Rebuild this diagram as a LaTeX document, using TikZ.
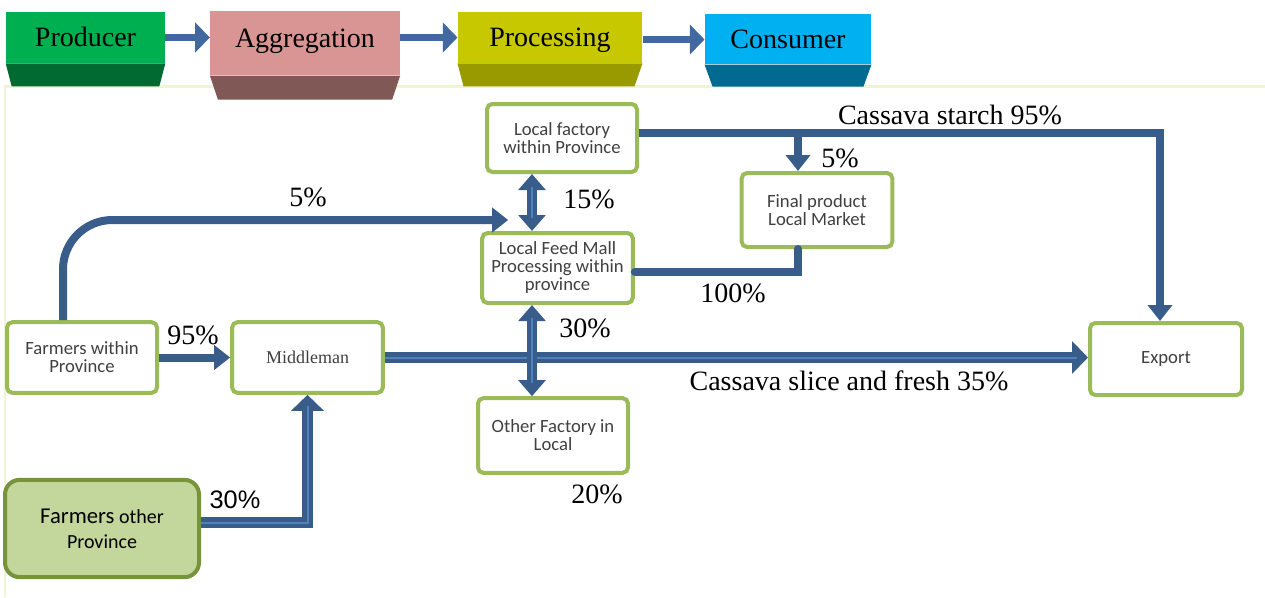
\documentclass[tikz,border=0pt]{standalone}
\usepackage{fontspec}
\setmainfont{Liberation Serif}
\newfontfamily\boxfont{Carlito}
\newfontfamily\arialfont{Liberation Sans}
\usetikzlibrary{arrows.meta,calc}

\tikzset{every picture/.style={line width=0.75pt}}
\tikzset{
  hdrtop/.style={draw=none, inner sep=0pt, text=black, text height=16pt, text depth=2pt, font=\fontsize{21}{24}\selectfont},
  hdrarrow/.style={draw={rgb, 255:red, 65; green, 105; blue, 160}, line width=5pt, -{Triangle[width=22pt,length=11pt]}},
  stage/.style={draw={rgb, 255:red, 155; green, 187; blue, 89}, line width=3pt, fill=white, rounded corners=4pt, inner sep=2pt, align=center, text={rgb, 255:red, 64; green, 64; blue, 64}, font=\boxfont\fontsize{14}{13.5}\selectfont},
  farmbox/.style={draw={rgb, 255:red, 119; green, 147; blue, 60}, line width=3pt, fill={rgb, 255:red, 195; green, 214; blue, 155}, rounded corners=11pt, align=center, text=black, font=\boxfont\fontsize{15}{19}\selectfont},
  flow/.style={draw={rgb, 255:red, 56; green, 93; blue, 138}, line width=6pt, -{Triangle[width=18pt,length=12pt]}},
  stripe/.style={postaction={draw={rgb, 255:red, 79; green, 129; blue, 189}, line width=1.5pt, arrows=-, shorten >=8pt}},
  bigflow/.style={draw={rgb, 255:red, 56; green, 93; blue, 138}, line width=8pt, -{Triangle[width=24pt,length=12pt]}, stripe},
  dblflow/.style={draw={rgb, 255:red, 56; green, 93; blue, 138}, line width=8pt, {Triangle[width=20pt,length=12pt]}-{Triangle[width=20pt,length=12pt]}, postaction={draw={rgb, 255:red, 79; green, 129; blue, 189}, line width=1.5pt, arrows=-, shorten >=10pt, shorten <=10pt}},
  pct/.style={inner sep=0.75pt, font=\fontsize{21}{24}\selectfont},
}

\begin{document}
\begin{tikzpicture}[x=0.75pt,y=0.75pt,yscale=-1,xscale=1]
\useasboundingbox (0,0) rectangle (1265,597);

%Straight Lines [frame]
\draw [color={rgb, 255:red, 238; green, 245; blue, 212}, line width=2pt] (5,597) -- (5,86.5) -- (1265,86.5) ;

%Shape: Header stages
\node [hdrtop, fill={rgb, 255:red, 0; green, 176; blue, 80}, minimum width=119pt, minimum height=38pt] (prod) at (85.5,37.5) {Producer};
\fill [fill={rgb, 255:red, 0; green, 106; blue, 48}] (prod.south west) -- (prod.south east) -- ($(prod.south east)+(-6,23)$) -- ($(prod.south west)+(6,23)$) -- cycle ;
\node [hdrtop, fill={rgb, 255:red, 217; green, 149; blue, 148}, minimum width=142pt, minimum height=48pt, text height=14pt, text depth=8pt] (aggr) at (305,43) {Aggregation};
\fill [fill={rgb, 255:red, 128; green, 88; blue, 86}] (aggr.south west) -- (aggr.south east) -- ($(aggr.south east)+(-8,24)$) -- ($(aggr.south west)+(8,24)$) -- cycle ;
\node [hdrtop, fill={rgb, 255:red, 200; green, 200; blue, 0}, minimum width=138pt, minimum height=38pt] (proc) at (550,37.5) {Processing};
\fill [fill={rgb, 255:red, 153; green, 153; blue, 0}] (proc.south west) -- (proc.south east) -- ($(proc.south east)+(-8,23)$) -- ($(proc.south west)+(6,23)$) -- cycle ;
\node [hdrtop, fill={rgb, 255:red, 0; green, 176; blue, 240}, minimum width=124.5pt, minimum height=37.5pt] (cons) at (788,39) {Consumer};
\fill [fill={rgb, 255:red, 0; green, 106; blue, 145}] (cons.south west) -- (cons.south east) -- ($(cons.south east)+(-8,22)$) -- ($(cons.south west)+(8,22)$) -- cycle ;

%Straight Lines [header arrows]
\draw [hdrarrow] (prod.east) -- (prod.east -| aggr.west) ;
\draw [hdrarrow] (aggr.east |- prod.east) -- (prod.east -| proc.west) ;
\draw [hdrarrow] ($(proc.east)+(0,2)$) -- ($(proc.east -| cons.west)+(0,2)$) ;

%Shape: Chain boxes
\node [stage, minimum width=112.5pt, minimum height=51pt] (lfac) at (562,138) {Local factory\\within Province};
\node [stage, minimum width=113pt, minimum height=55.5pt] (fprod) at (817,210) {Final product\\Local Market};
\node [stage, minimum width=113pt, minimum height=52.5pt] (lfeed) at (557.5,268) {Local Feed Mall\\Processing within\\province};
\node [stage, minimum width=112.5pt, minimum height=56pt] (ofac) at (553,435.5) {Other Factory in\\Local};
\node [stage, minimum width=112.5pt, minimum height=53pt] (fwp) at (82,357.5) {Farmers within\\Province};
\node [stage, minimum width=113pt, minimum height=53pt, font=\fontsize{13.5}{14}\selectfont] (mid) at (307.5,357.5) {Middleman};
\node [stage, minimum width=114pt, minimum height=54pt] (exp) at (1166,359) {Export};
\node [farmbox, minimum width=145.5pt, minimum height=73pt] (fop) at (102,528.5) {{\fontsize{17}{19}\selectfont Farmers} other\\Province};

%Straight Lines [flows]
\draw [flow] (fwp.east) -- (mid.west) ;
\coordinate (fwpout) at ($(fwp.north)+(-19,0)$) ;
\coordinate (mallin) at ($(lfeed.north west)+(28,-11)$) ;
\draw [flow, rounded corners=37pt] (fwpout) |- (mallin) ;
\draw [bigflow] ($(fop.east)+(0,-6)$) -| (mid.south) ;
\draw [bigflow] (mid.east) -- (mid.east -| exp.west) ;
\coordinate (lfacdn) at ($(lfac.south)+(-30,0)$) ;
\draw [dblflow] (lfacdn) -- (lfacdn |- lfeed.north) ;
\coordinate (mallup) at ($(lfeed.south)+(-25.5,0)$) ;
\draw [dblflow] (mallup) -- (mallup |- ofac.north) ;
\coordinate (lfacout) at ($(lfac.east)+(0,-5)$) ;
\draw [flow] (lfacout) -| ($(exp.north)+(-6,0)$) ;
\coordinate (fpin) at ($(fprod.north)+(-19,0)$) ;
\draw [flow] (fpin |- lfacout) -- (fpin) ;
\coordinate (fpout) at ($(fprod.south)+(-19,0)$) ;
\draw [flow, arrows=-, line cap=round] ($(lfeed.east)+(0,4)$) -| (fpout) ;

% Text Node
\node [pct] (l95) at (193,335) {95\%};
% Text Node
\node [pct, font=\arialfont\fontsize{19}{22}\selectfont] (l30a) at (235,500) {30\%};
% Text Node
\node [pct] (l5a) at (308,197) {5\%};
% Text Node
\node [pct] (l15) at (589,199) {15\%};
% Text Node
\node [pct] (lstarch) at (950,115) {Cassava starch 95\%};
% Text Node
\node [pct] (l5b) at (840,158) {5\%};
% Text Node
\node [pct] (l100) at (733,293) {100\%};
% Text Node
\node [pct] (l30b) at (585,328) {30\%};
% Text Node
\node [pct] (lslice) at (849,381) {Cassava slice and fresh 35\%};
% Text Node
\node [pct] (l20) at (597,494) {20\%};

\end{tikzpicture}
\end{document}
